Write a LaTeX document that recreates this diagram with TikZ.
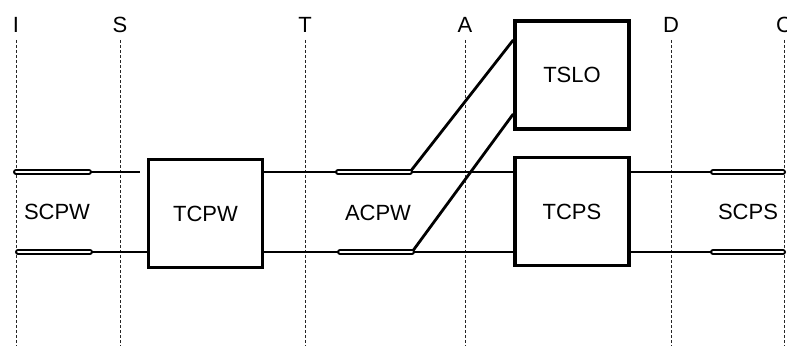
\documentclass[tikz,border=0pt]{standalone}
\usepackage{fontspec}
\setmainfont{Liberation Sans}
\usetikzlibrary{calc}
\begin{document}
\begin{tikzpicture}[x=1pt,y=1pt,font=\fontsize{22}{26}\selectfont]
\tikzset{box/.style={draw,line width=3.5pt,minimum width=114pt,minimum height=108pt,inner sep=0pt},
  wire/.style={line width=2.8pt},tube/.style={double,double distance=2pt,line width=2pt,line cap=round},
  refline/.style={line width=1pt,dash pattern=on 3pt off 2pt,draw=black!85}}
\useasboundingbox (0,0) rectangle (787,350);
\foreach \x/\n in {16/I,120/S,305/T,465/A,671/D,784/C}{
  \node (l\n) at (\x,325) {\n};
  \coordinate (t\n) at (\x,310); \coordinate (b\n) at (\x,4);
  \draw[refline] (t\n)--(b\n);}
\node[box] (tcpw) at (205.5,136.5) {TCPW};
\node[box] (tcps) at (572,138.5) {TCPS};
\node[box] (tslo) at (572,275) {TSLO};
\node (scpw) at (57,138) {SCPW};
\node (acpw) at (378,137) {ACPW};
\node (scps) at (748,138) {SCPS};
\coordinate (ul0) at (16,178); \coordinate (ul1) at (89,178); \coordinate (ul2) at (140,178);
\coordinate (ll0) at (18,98); \coordinate (ll1) at (90,98);
\coordinate (um1) at (338,178); \coordinate (um2) at (410,178);
\coordinate (lm1) at (340,98); \coordinate (lm2) at (412,98);
\coordinate (ur1) at (713,178); \coordinate (ur2) at (783,178);
\coordinate (lr1) at (713,98); \coordinate (lr2) at (783,98);
\draw[wire] (ul1)--(ul2); \draw[wire] (ll1)--(ll1 -| tcpw.west);
\draw[wire] (tcpw.east |- um1)--(um1); \draw[wire] (um2)--(um2 -| tcps.west);
\draw[wire] (tcpw.east |- lm1)--(lm1); \draw[wire] (lm2)--(lm2 -| tcps.west);
\draw[wire] (um2)--([yshift=35pt]tslo.west); \draw[wire] (lm2)--([yshift=-39pt]tslo.west);
\draw[wire] (tcps.east |- ur1)--(ur1); \draw[wire] (tcps.east |- lr1)--(lr1);
\draw[tube] (ul0)--(ul1); \draw[tube] (ll0)--(ll1);
\draw[tube] (um1)--(um2); \draw[tube] (lm1)--(lm2);
\draw[tube] (ur1)--(ur2); \draw[tube] (lr1)--(lr2);
\end{tikzpicture}
\end{document}
